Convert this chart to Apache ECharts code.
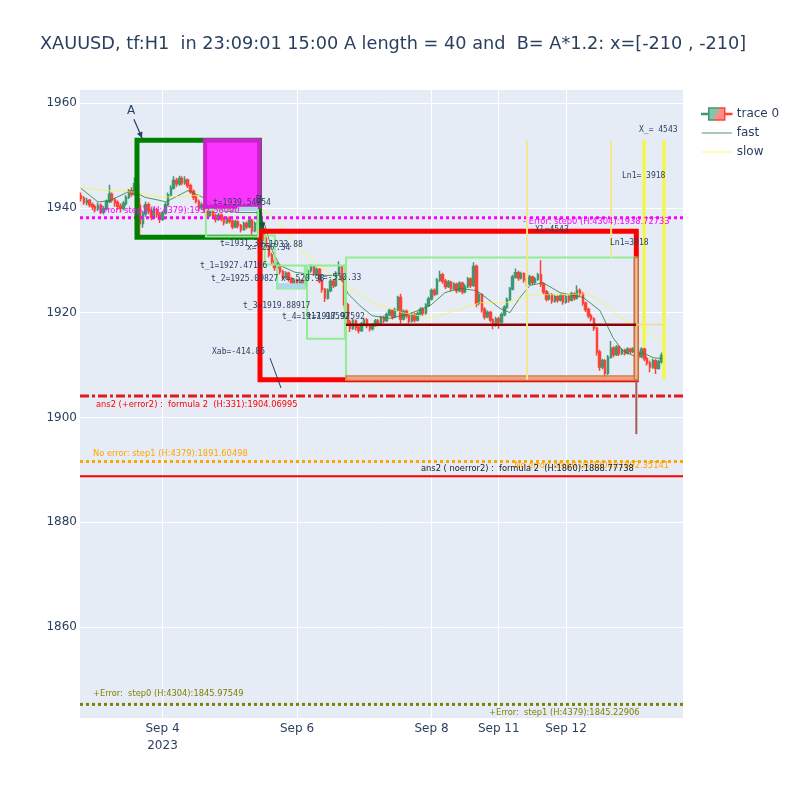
<!DOCTYPE html>
<html><head><meta charset="utf-8">
<script src="https://cdn.jsdelivr.net/npm/echarts@6/dist/echarts.min.js"></script>
<style>html,body{margin:0;padding:0;background:#fff}#c{width:800px;height:800px}</style>
</head><body><div id="c"></div>
<script>
// x values are trading hours counted from 2023-09-04 00:00 (weekend removed)
const titleText = 'XAUUSD, tf:H1  in 23:09:01 15:00 A length = 40 and  B= A*1.2: x=[-210 , -210]';
const xTickValues = [0, 48, 96, 120, 144];
const xTickLabels = ['Sep 4\n2023', 'Sep 6', 'Sep 8', 'Sep 11', 'Sep 12'];
const yTickValues = [1860, 1880, 1900, 1920, 1940, 1960];
const xRange = [-29.44, 185.76];
const yRange = [1842.63, 1962.48];

const firstHour = -29;
// [open, close, low, high] per hour
const ohlc = [
[1942.3,1941.8,1941.2,1942.9],[1941.8,1941.0,1940.6,1942.2],[1941.0,1941.4,1940.5,1941.9],[1941.4,1940.6,1940.1,1941.7],
[1940.6,1940.2,1939.6,1941.0],[1940.2,1939.8,1939.1,1940.6],[1939.8,1940.5,1939.4,1941.0],[1940.5,1939.3,1938.8,1940.8],
[1939.3,1939.8,1938.7,1940.3],[1939.8,1941.2,1939.5,1941.6],[1941.2,1942.6,1940.9,1944.4],[1942.6,1941.5,1941.0,1942.9],
[1941.5,1941.0,1940.2,1941.9],[1941.0,1940.3,1939.6,1941.4],[1940.3,1939.9,1939.2,1940.8],[1939.9,1940.8,1939.5,1941.3],
[1940.8,1942.0,1940.4,1942.4],[1942.0,1943.2,1941.7,1943.6],[1943.2,1942.6,1942.1,1943.9],[1942.6,1944.6,1942.3,1945.8],
[1944.6,1940.5,1937.5,1953.0],[1940.5,1937.0,1934.8,1941.8],[1937.0,1938.8,1936.2,1939.4],[1938.8,1940.6,1938.3,1941.2],
[1940.6,1939.4,1938.8,1941.0],[1939.4,1938.2,1937.6,1939.9],[1938.2,1939.6,1937.8,1940.1],[1939.6,1938.7,1938.1,1940.0],
[1938.7,1937.8,1937.1,1939.2],[1937.8,1939.0,1937.5,1939.4],[1939.0,1940.6,1938.7,1941.0],[1940.6,1942.5,1940.3,1942.9],
[1942.5,1943.8,1942.1,1944.3],[1943.8,1945.2,1943.5,1946.0],[1945.2,1944.6,1944.0,1945.7],[1944.6,1945.6,1944.2,1946.1],
[1945.6,1944.8,1944.3,1946.0],[1944.8,1945.3,1944.4,1946.0],[1945.3,1944.2,1943.8,1945.6],[1944.2,1943.1,1942.7,1944.6],
[1943.1,1942.0,1941.5,1943.5],[1942.0,1941.2,1940.8,1942.5],[1941.2,1940.0,1939.5,1941.6],[1940.0,1940.6,1939.6,1941.0],
[1940.6,1939.5,1939.0,1941.0],[1939.5,1938.6,1938.0,1939.9],[1938.6,1939.3,1938.2,1939.7],[1939.3,1938.5,1937.9,1939.7],
[1938.5,1937.8,1937.2,1938.9],[1937.8,1938.6,1937.5,1939.0],[1938.6,1937.9,1937.4,1938.9],[1937.9,1937.2,1936.6,1938.3],
[1937.2,1938.0,1936.9,1938.4],[1938.0,1937.5,1937.0,1938.4],[1937.5,1936.4,1935.9,1937.8],[1936.4,1937.3,1936.1,1937.7],
[1937.3,1936.6,1936.1,1937.6],[1936.6,1935.8,1935.3,1936.9],[1935.8,1937.0,1935.6,1937.4],[1937.0,1936.4,1935.9,1937.4],
[1936.4,1937.6,1936.1,1938.0],[1937.6,1935.6,1934.9,1937.9],[1935.6,1937.0,1935.3,1937.4],[1937.0,1939.0,1936.8,1940.0],
[1939.0,1936.0,1935.5,1939.3],[1936.0,1934.2,1933.6,1936.4],[1934.2,1932.5,1932.0,1934.6],[1932.5,1931.0,1930.5,1932.9],
[1931.0,1929.8,1929.2,1931.4],[1929.8,1928.6,1928.0,1930.2],[1928.6,1929.0,1928.1,1929.6],[1929.0,1927.8,1927.3,1929.3],
[1927.8,1926.8,1926.3,1928.2],[1926.8,1927.5,1926.4,1927.9],[1927.5,1926.4,1925.9,1927.8],[1926.4,1925.6,1925.1,1926.8],
[1925.6,1926.2,1925.2,1926.6],[1926.2,1925.4,1924.9,1926.5],[1925.4,1926.0,1925.0,1926.4],[1926.0,1925.2,1924.6,1926.3],
[1925.2,1926.5,1924.9,1926.9],[1926.5,1928.0,1926.2,1928.4],[1928.0,1928.8,1927.6,1929.2],[1928.8,1927.5,1927.0,1929.1],
[1927.5,1928.2,1927.1,1928.6],[1928.2,1926.0,1925.6,1928.5],[1926.0,1924.4,1923.8,1926.3],[1924.4,1922.8,1922.0,1924.7],
[1922.8,1924.2,1922.5,1924.6],[1924.2,1926.0,1923.9,1926.4],[1926.0,1925.2,1924.7,1926.4],[1925.2,1927.5,1924.9,1927.9],
[1927.5,1928.8,1927.2,1929.8],[1928.8,1926.5,1926.0,1929.1],[1926.5,1921.5,1920.8,1926.9],[1921.5,1918.2,1917.5,1921.9],
[1918.2,1917.0,1916.3,1918.6],[1917.0,1918.4,1916.7,1918.8],[1918.4,1917.2,1916.6,1918.7],[1917.2,1916.6,1916.0,1917.6],
[1916.6,1917.8,1916.3,1918.2],[1917.8,1918.6,1917.4,1919.0],[1918.6,1917.5,1917.0,1918.9],[1917.5,1916.9,1916.4,1917.9],
[1916.9,1917.6,1916.6,1918.0],[1917.6,1918.4,1917.3,1918.8],[1918.4,1917.9,1917.4,1918.8],[1917.9,1919.0,1917.6,1919.4],
[1919.0,1918.5,1918.0,1919.4],[1918.5,1919.6,1918.2,1920.0],[1919.6,1920.4,1919.3,1920.8],[1920.4,1919.2,1918.7,1920.7],
[1919.2,1920.5,1918.9,1920.9],[1920.5,1922.9,1920.2,1923.2],[1922.9,1918.8,1917.9,1923.6],[1918.8,1920.2,1918.5,1920.6],
[1920.2,1919.4,1918.9,1920.6],[1919.4,1918.4,1917.9,1919.8],[1918.4,1919.6,1918.1,1920.0],[1919.6,1918.6,1918.1,1920.0],
[1918.6,1919.8,1918.3,1920.2],[1919.8,1920.6,1919.5,1921.0],[1920.6,1919.9,1919.4,1921.0],[1919.9,1921.4,1919.6,1921.8],
[1921.4,1922.6,1921.1,1923.0],[1922.6,1924.2,1922.3,1924.6],[1924.2,1923.6,1923.1,1924.6],[1923.6,1926.2,1923.3,1926.6],
[1926.2,1927.2,1925.9,1928.0],[1927.2,1926.0,1925.5,1927.6],[1926.0,1925.0,1924.5,1926.4],[1925.0,1925.8,1924.7,1926.2],
[1925.8,1924.6,1924.1,1926.1],[1924.6,1925.4,1924.3,1925.8],[1925.4,1924.2,1923.7,1925.7],[1924.2,1925.6,1923.9,1926.0],
[1925.6,1924.0,1923.5,1925.9],[1924.0,1925.0,1923.7,1925.4],[1925.0,1926.4,1924.7,1926.8],[1926.4,1925.2,1924.7,1926.7],
[1925.2,1928.8,1924.9,1929.6],[1928.8,1921.8,1921.0,1929.2],[1921.8,1923.4,1921.4,1923.9],[1923.4,1920.6,1920.0,1923.7],
[1920.6,1919.2,1918.7,1921.0],[1919.2,1920.0,1918.9,1920.4],[1920.0,1918.6,1918.1,1920.3],[1918.6,1917.6,1916.8,1918.9],
[1917.6,1918.8,1917.3,1919.2],[1918.8,1918.2,1916.9,1919.2],[1918.2,1919.6,1917.9,1920.0],[1919.6,1921.0,1919.3,1921.4],
[1921.0,1922.5,1920.7,1922.9],[1922.5,1924.5,1922.2,1924.9],[1924.5,1926.8,1924.2,1927.2],[1926.8,1927.6,1926.5,1928.4],
[1927.6,1926.6,1926.1,1928.0],[1926.6,1927.4,1926.3,1927.8],[1927.4,1926.2,1925.7,1927.7],[1926.2,1925.5,1925.0,1926.6],
[1925.5,1926.8,1925.2,1927.2],[1926.8,1925.8,1925.3,1927.1],[1925.8,1926.4,1925.4,1926.8],[1926.4,1927.2,1926.1,1927.6],
[1927.2,1925.4,1924.9,1930.0],[1925.4,1924.0,1923.5,1925.8],[1924.0,1922.6,1922.1,1924.3],[1922.6,1923.4,1922.3,1923.8],
[1923.4,1922.2,1921.7,1923.7],[1922.2,1923.0,1921.9,1923.4],[1923.0,1922.4,1921.9,1923.3],[1922.4,1923.2,1922.1,1923.6],
[1923.2,1922.0,1921.5,1923.5],[1922.0,1923.0,1921.7,1923.4],[1923.0,1922.4,1921.9,1923.3],[1922.4,1923.6,1922.1,1924.0],
[1923.6,1922.8,1922.3,1923.9],[1922.8,1924.2,1922.5,1925.2],[1924.2,1923.6,1923.1,1924.6],[1923.6,1921.8,1921.3,1923.9],
[1921.8,1920.6,1920.1,1922.1],[1920.6,1919.4,1918.9,1920.9],[1919.4,1918.8,1918.3,1919.8],[1918.8,1917.0,1916.5,1919.1],
[1917.0,1912.5,1911.8,1917.3],[1912.5,1909.6,1908.9,1912.9],[1909.6,1910.8,1909.2,1911.2],[1910.8,1908.4,1907.5,1911.1],
[1908.4,1911.5,1908.1,1911.9],[1911.5,1913.2,1911.2,1914.6],[1913.2,1912.0,1911.5,1913.6],[1912.0,1913.4,1911.7,1913.8],
[1913.4,1912.2,1911.7,1913.7],[1912.2,1912.8,1911.9,1913.2],[1912.8,1912.3,1911.8,1913.1],[1912.3,1913.0,1912.0,1913.4],
[1913.0,1912.6,1912.1,1913.3],[1912.6,1913.0,1912.3,1913.4],[1913.0,1912.4,1911.9,1913.3],[1912.4,1911.6,1911.1,1912.8],
[1911.6,1913.0,1911.3,1913.4],[1913.0,1911.2,1910.7,1913.3],[1911.2,1910.4,1909.9,1911.6],[1910.4,1909.6,1908.6,1910.8],
[1909.6,1910.8,1909.3,1911.2],[1910.8,1909.4,1908.3,1911.1],[1909.4,1910.6,1909.1,1911.0],[1910.6,1911.8,1910.3,1912.4]
];

const fastLine = [[-29.1,1943.7],[-23.0,1941.1],[-18.7,1941.4],[-11.2,1943.3],[-6.2,1942.0],[-0.9,1941.4],[1.2,1941.1],[9.1,1943.3],[15.2,1941.8],[19.8,1939.5],[27.7,1939.1],[34.1,1939.1],[36.6,1936.6],[39.1,1931.9],[41.9,1929.0],[47.3,1927.7],[52.6,1927.3],[58.0,1927.1],[63.3,1927.1],[66.2,1923.6],[70.5,1921.3],[74.8,1919.4],[81.2,1918.9],[88.3,1919.8],[95.5,1921.3],[100.8,1923.8],[106.2,1924.6],[112.2,1924.2],[120.4,1920.8],[124.0,1920.0],[127.6,1922.9],[131.2,1925.2],[135.8,1925.7],[141.9,1923.8],[150.1,1922.9],[156.1,1920.4],[160.8,1915.2],[164.3,1912.7],[167.9,1911.8],[171.5,1912.3],[175.1,1911.4],[178.6,1911.2]];
const slowLine = [[-29.1,1943.9],[-20.5,1943.3],[-9.8,1943.0],[-0.5,1942.0],[13.7,1942.4],[24.1,1940.9],[34.8,1939.9],[40.1,1938.0],[49.1,1931.9],[66.2,1924.8],[75.8,1921.7],[85.5,1920.0],[95.5,1919.0],[105.1,1920.4],[113.3,1921.9],[123.0,1921.9],[132.2,1923.4],[141.9,1923.4],[151.5,1923.6],[157.2,1921.9],[163.3,1919.0],[167.9,1917.9],[172.9,1916.6],[178.6,1914.1]];

// horizontal reference levels (full width)
const hLevels = [1938.1, 1904.06995, 1891.60498, 1888.77738, 1845.22906];
const hLevelStyle = ['magentaDot', 'redDashDot', 'orangeDot', 'redSolid', 'oliveDot'];

// rectangles [x0, y0, x1, y1]
const boxes = [
  [-9.1, 1952.9, 34.6, 1934.4],
  [15.2, 1952.9, 34.6, 1940.2],
  [34.8, 1935.5, 169.1, 1907.2],
  [15.5, 1939.6, 34.1, 1934.5],
  [36.5, 1934.7, 40.1, 1929.2],
  [40.9, 1929.0, 50.8, 1924.6],
  [51.6, 1929.0, 65.1, 1915.0],
  [65.5, 1930.5, 169.1, 1907.2],
  [27.0, 1940.0, 33.7, 1939.6],
  [41.5, 1925.4, 50.5, 1924.8],
  [65.5, 1907.9, 169.1, 1907.1],
  [168.4, 1930.5, 169.8, 1907.1]
];
const boxStyle = ['greenBox','magentaBox','redBox','lgBox','lgBox','lgBox','lgBox','lgBox','lbBar','lbBar','orangeBar','orangeBar'];

// segments [x0, y0, x1, y1]
const segments = [
  [65.5, 1917.7, 169.1, 1917.7],
  [169.1, 1917.7, 179.0, 1917.7],
  [130.1, 1952.9, 130.1, 1907.2],
  [160.1, 1952.9, 160.1, 1930.5],
  [171.9, 1952.9, 171.9, 1913.4],
  [179.0, 1952.9, 179.0, 1907.2],
  [169.1, 1907.2, 169.1, 1896.8],
  [-10.2, 1956.9, -7.3, 1953.3],
  [34.8, 1939.6, 36.0, 1936.0],
  [38.4, 1911.3, 42.3, 1905.6]
];
const segStyle = ['darkRed','paleH','paleV','paleV','yellowV','yellowV','wick','arrow','arrow','plain'];
const segArrow = [false,false,false,false,false,false,false,true,true,false];

// annotations [x, y]
const notePos = [
  [-11.24,1958.47],[34.44,1941.49],[18.02,1940.92],[20.52,1933.09],[34.6,1933.0],[30.16,1932.33],
  [13.38,1928.89],[17.31,1926.41],[42.29,1926.41],[55.5,1926.6],[28.73,1921.26],[42.65,1919.16],[51.57,1919.16],
  [17.67,1912.48],[170.06,1954.85],[164.0,1946.07],[159.71,1933.28],[132.94,1935.76],
  [-24.8,1939.44],[128.66,1937.29],[-23.73,1902.37],[-24.8,1893.02],[180.76,1890.73],[92.26,1890.15],
  [-24.8,1847.21],[116.52,1843.59]
];
const noteText = [
  'A','B','t=1939.54854','t=1931.33','t=1933.88','x=-237.34',
  't_1=1927.47166','t_2=1925.09827','x=-520.98','x=-510.33','t_3=1919.88917','t_4=1917.98592','t=1917.97592',
  'Xab=-414.85','X_= 4543','Ln1= 3918','Ln1=3918','Xl=4543',
  '- Error: step1 (H:4379):1937.58090','- Error: step0 (H:4304):1938.72733',
  'ans2 (+error2) :  formula 2  (H:331):1904.06995','No error: step1 (H:4379):1891.60498',
  'No error: step0 (H:4304):1892.35141','ans2 ( noerror2) :  formula 2  (H:1860):1888.77738',
  '+Error:  step0 (H:4304):1845.97549','+Error:  step1 (H:4379):1845.22906'
];
const noteStyle = ['big','mid','mono','mono','mono','mono','mono','mono','mono','mono','mono','mono','mono','mono','mono','mono','mono','mono',
  'errMag','errMag','errRed','errOrange','errOrangeR','errBlack','errOlive','errOlive'];

/* ---------- styles ---------- */
const lineStyles = {
  magentaDot: {stroke:'#ff00ff', lineWidth:3, lineDash:[3,3]},
  redDashDot: {stroke:'#e3191c', lineWidth:3, lineDash:[9,3,3,3]},
  orangeDot: {stroke:'#ffa500', lineWidth:3, lineDash:[3,3]},
  redSolid: {stroke:'#ff0000', lineWidth:2},
  oliveDot: {stroke:'#808000', lineWidth:3, lineDash:[3,3]},
  darkRed: {stroke:'#8b0000', lineWidth:2.5},
  paleH: {stroke:'rgba(240,215,150,0.8)', lineWidth:2},
  paleV: {stroke:'#f3e68e', lineWidth:2},
  yellowV: {stroke:'#f8f832', lineWidth:3},
  wick: {stroke:'#a65a5a', lineWidth:2},
  arrow: {stroke:'#2a3f5f', lineWidth:1.2},
  plain: {stroke:'#2a3f5f', lineWidth:1}
};
const rectStyles = {
  greenBox: {stroke:'#008000', lineWidth:5, fill:null},
  magentaBox: {stroke:'#cc22cc', lineWidth:4, fill:'rgba(255,20,255,0.85)'},
  redBox: {stroke:'#ff0000', lineWidth:5, fill:null},
  lgBox: {stroke:'#90ee90', lineWidth:2, fill:null},
  lbBar: {stroke:'#add8e6', lineWidth:2, fill:'#add8e6'},
  orangeBar: {stroke:'rgba(205,110,60,0.9)', lineWidth:1.5, fill:'rgba(250,195,160,0.75)'}
};
const textStyles = {
  big: {font:'12px "DejaVu Sans"', fill:'#2a3f5f', align:'center'},
  mid: {font:'10px "DejaVu Sans"', fill:'#2a3f5f', align:'center'},
  mono: {font:'8px "DejaVu Sans Mono"', fill:'#2a3f5f', align:'left'},
  errMag: {font:'8.3px "DejaVu Sans"', fill:'#ff00ff', align:'left'},
  errRed: {font:'8.3px "DejaVu Sans"', fill:'#ff0000', align:'left'},
  errOrange: {font:'8.3px "DejaVu Sans"', fill:'#ffa500', align:'left'},
  errOrangeR: {font:'8.3px "DejaVu Sans"', fill:'#ffa500', align:'right'},
  errBlack: {font:'8.3px "DejaVu Sans"', fill:'#1a1a1a', align:'left'},
  errOlive: {font:'8.3px "DejaVu Sans"', fill:'#808000', align:'left'}
};

const candleData = ohlc.map((d, i) => [firstHour + i, d[0], d[1], d[2], d[3]]);

const chart = echarts.init(document.getElementById('c'), null, {renderer:'canvas'});
const font = '"DejaVu Sans", Verdana, sans-serif';
const G = echarts.graphic;
const legendFill = new G.LinearGradient(0, 0, 1, 1, [
  {offset:0, color:'rgba(61,153,112,0.6)'},{offset:0.5, color:'rgba(61,153,112,0.6)'},
  {offset:0.5, color:'rgba(255,65,54,0.6)'},{offset:1, color:'rgba(255,65,54,0.6)'}]);
const legendStroke = new G.LinearGradient(0, 0, 1, 1, [
  {offset:0, color:'#3D9970'},{offset:0.5, color:'#3D9970'},{offset:0.5, color:'#FF4136'},{offset:1, color:'#FF4136'}]);
const fastColor = 'rgba(40,125,60,0.8)';
const slowColor = 'rgba(250,245,60,0.7)';

chart.setOption({
  animation: false,
  backgroundColor: '#fff',
  title: {text: titleText, left: 40, top: 35, padding: 0,
    textStyle: {fontFamily: font, fontSize: 17.7, fontWeight: 'normal', color: '#2a3f5f'}},
  legend: {
    orient: 'vertical', left: 701, top: 107, itemWidth: 30, itemHeight: 14, itemGap: 5, padding: 0,
    textStyle: {fontFamily: font, fontSize: 12, color: '#2a3f5f', lineHeight: 14},
    data: [
      {name: 'trace 0', icon: 'path://M0,6.4H7V7.6H0Z M7,1H23V13H7Z M23,6.4H30V7.6H23Z',
       itemStyle: {color: legendFill, borderColor: legendStroke, borderWidth: 1.5}},
      {name: 'fast', icon: 'path://M0,0H60V2H0Z', itemStyle: {color: fastColor, borderWidth: 0}},
      {name: 'slow', icon: 'path://M0,0H60V2H0Z', itemStyle: {color: slowColor, borderWidth: 0}}
    ]
  },
  grid: {left: 80, right: 117, top: 90, bottom: 82, backgroundColor: '#E5ECF6', show: true, borderWidth: 0},
  xAxis: {
    type: 'value', min: xRange[0], max: xRange[1],
    axisLine: {show: false}, axisTick: {show: false, customValues: xTickValues},
    axisLabel: {customValues: xTickValues, formatter: v => xTickLabels[xTickValues.indexOf(v)] || '',
      color: '#2a3f5f', fontFamily: font, fontSize: 12, lineHeight: 17, margin: 2},
    splitLine: {show: true, lineStyle: {color: '#ffffff', width: 1}}
  },
  yAxis: {
    type: 'value', min: yRange[0], max: yRange[1],
    axisLine: {show: false}, axisTick: {show: false, customValues: yTickValues},
    axisLabel: {customValues: yTickValues, formatter: v => String(v), color: '#2a3f5f', fontFamily: font, fontSize: 12, margin: 3},
    splitLine: {show: true, lineStyle: {color: '#ffffff', width: 1}}
  },
  series: [
    {type: 'candlestick', name: 'trace 0', data: candleData, encode: {x: 0, y: [1, 2, 3, 4]},
     barWidth: 2, z: 2,
     itemStyle: {color: '#3D9970', color0: '#FF4136', borderColor: '#3D9970', borderColor0: '#FF4136', borderWidth: 1.5}},
    {type: 'line', name: 'fast', data: fastLine, symbol: 'none', z: 3,
     lineStyle: {color: fastColor, width: 1}, itemStyle: {color: fastColor}},
    {type: 'line', name: 'slow', data: slowLine, symbol: 'none', z: 3,
     lineStyle: {color: slowColor, width: 1}, itemStyle: {color: slowColor}},
    {type: 'custom', name: 'levels', z: 4, silent: true, clip: true,
     data: hLevels.map(v => [xRange[0], v]), encode: {x: 0, y: 1},
     renderItem: (params, api) => {
       const cs = params.coordSys;
       const y = api.coord([api.value(0), api.value(1)])[1];
       return {type: 'line', shape: {x1: cs.x, y1: y, x2: cs.x + cs.width, y2: y},
         style: Object.assign({fill: null}, lineStyles[hLevelStyle[params.dataIndex]])};
     }},
    {type: 'custom', name: 'boxes', z: 5, silent: true, clip: false,
     data: boxes, encode: {x: [0, 2], y: [1, 3]},
     renderItem: (params, api) => {
       const a = api.coord([api.value(0), api.value(1)]);
       const b = api.coord([api.value(2), api.value(3)]);
       return {type: 'rect', shape: {x: Math.min(a[0], b[0]), y: Math.min(a[1], b[1]),
         width: Math.abs(b[0] - a[0]), height: Math.abs(b[1] - a[1])},
         style: Object.assign({}, rectStyles[boxStyle[params.dataIndex]])};
     }},
    {type: 'custom', name: 'segments', z: 6, silent: true, clip: false,
     data: segments, encode: {x: [0, 2], y: [1, 3]},
     renderItem: (params, api) => {
       const a = api.coord([api.value(0), api.value(1)]);
       const b = api.coord([api.value(2), api.value(3)]);
       const st = lineStyles[segStyle[params.dataIndex]];
       const children = [{type: 'line', shape: {x1: a[0], y1: a[1], x2: b[0], y2: b[1]},
         style: Object.assign({fill: null}, st)}];
       if (segArrow[params.dataIndex]) {
         const ang = Math.atan2(b[1] - a[1], b[0] - a[0]);
         const L = 6, W = 3;
         const bx = b[0] - L * Math.cos(ang), by = b[1] - L * Math.sin(ang);
         children.push({type: 'polygon', shape: {points: [[b[0], b[1]],
           [bx + W * Math.sin(ang), by - W * Math.cos(ang)], [bx - W * Math.sin(ang), by + W * Math.cos(ang)]]},
           style: {fill: st.stroke}});
       }
       return {type: 'group', children};
     }},
    {type: 'custom', name: 'notes', z: 7, silent: true, clip: false,
     data: notePos, encode: {x: 0, y: 1},
     renderItem: (params, api) => {
       const p = api.coord([api.value(0), api.value(1)]);
       const s = textStyles[noteStyle[params.dataIndex]];
       return {type: 'text', x: p[0], y: p[1],
         style: {text: noteText[params.dataIndex], font: s.font, fill: s.fill, align: s.align, verticalAlign: 'middle'}};
     }}
  ]
});
</script>
</body></html>
